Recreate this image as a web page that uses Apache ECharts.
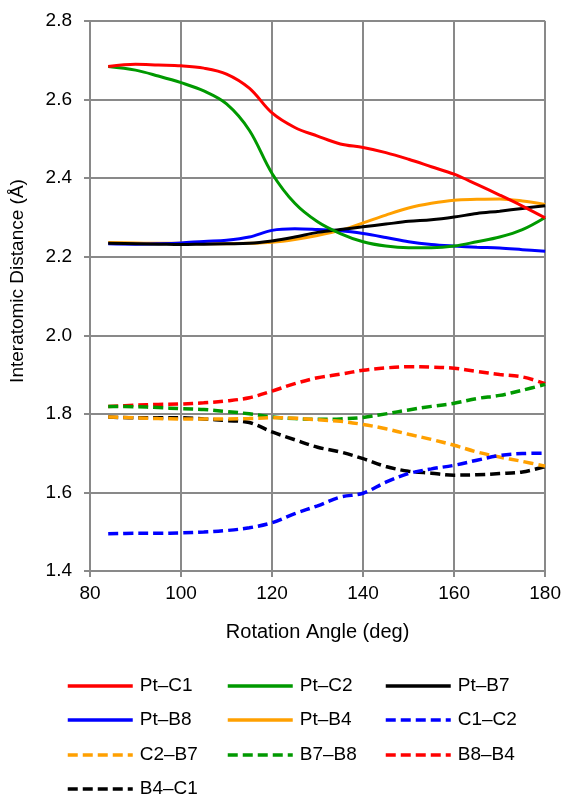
<!DOCTYPE html>
<html>
<head>
<meta charset="utf-8">
<script src="https://cdn.jsdelivr.net/npm/echarts@6/dist/echarts.min.js"></script>
<style>
html,body{margin:0;padding:0;background:#fff;}
#chart{width:564px;height:797px;}
</style>
</head>
<body>
<div id="chart"></div>
<script>
const angles = [84, 90, 95, 100, 105, 110, 115, 120, 125, 130, 135, 140, 145, 150, 155, 160, 165, 170, 175, 180];

const ptC1 = [2.684, 2.690, 2.688, 2.686, 2.680, 2.665, 2.629, 2.566, 2.529, 2.507, 2.487, 2.478, 2.465, 2.448, 2.429, 2.410, 2.384, 2.357, 2.329, 2.299];
const ptC2 = [2.684, 2.675, 2.660, 2.643, 2.622, 2.589, 2.522, 2.412, 2.336, 2.289, 2.259, 2.238, 2.227, 2.223, 2.223, 2.227, 2.238, 2.250, 2.269, 2.300];
const ptB7 = [2.234, 2.233, 2.232, 2.231, 2.232, 2.233, 2.234, 2.240, 2.250, 2.262, 2.269, 2.276, 2.283, 2.290, 2.294, 2.301, 2.310, 2.316, 2.323, 2.330];
const ptB8 = [2.233, 2.232, 2.233, 2.235, 2.239, 2.242, 2.250, 2.267, 2.271, 2.269, 2.266, 2.259, 2.249, 2.238, 2.231, 2.227, 2.224, 2.222, 2.218, 2.214];
const ptB4 = [2.236, 2.235, 2.234, 2.234, 2.233, 2.233, 2.234, 2.237, 2.244, 2.254, 2.267, 2.286, 2.306, 2.324, 2.336, 2.344, 2.346, 2.347, 2.342, 2.333];
const c1C2 = [1.495, 1.496, 1.496, 1.497, 1.499, 1.503, 1.510, 1.523, 1.546, 1.566, 1.588, 1.598, 1.626, 1.648, 1.660, 1.669, 1.682, 1.694, 1.699, 1.700];
const c2B7 = [1.792, 1.790, 1.788, 1.787, 1.787, 1.787, 1.788, 1.790, 1.789, 1.785, 1.781, 1.773, 1.762, 1.748, 1.735, 1.720, 1.703, 1.690, 1.679, 1.667];
const b7B8 = [1.819, 1.818, 1.816, 1.813, 1.811, 1.806, 1.800, 1.792, 1.788, 1.786, 1.787, 1.791, 1.800, 1.810, 1.819, 1.827, 1.839, 1.847, 1.860, 1.875];
const b8B4 = [1.819, 1.822, 1.824, 1.825, 1.828, 1.833, 1.841, 1.858, 1.877, 1.892, 1.901, 1.911, 1.917, 1.920, 1.919, 1.916, 1.908, 1.900, 1.894, 1.877];
const b4C1 = [1.792, 1.790, 1.790, 1.790, 1.787, 1.783, 1.778, 1.754, 1.734, 1.715, 1.703, 1.686, 1.666, 1.654, 1.649, 1.644, 1.645, 1.648, 1.652, 1.666];

const seriesNames = ['Pt\u2013C1', 'Pt\u2013C2', 'Pt\u2013B7', 'Pt\u2013B8', 'Pt\u2013B4', 'C1\u2013C2', 'C2\u2013B7', 'B7\u2013B8', 'B8\u2013B4', 'B4\u2013C1'];
const seriesData = [ptC1, ptC2, ptB7, ptB8, ptB4, c1C2, c2B7, b7B8, b8B4, b4C1];
const seriesColors = ['#FF0000', '#009900', '#000000', '#0000FF', '#FFA000', '#0000FF', '#FFA000', '#009900', '#FF0000', '#000000'];
const seriesDashed = [false, false, false, false, false, true, true, true, true, true];

const xTicks = [80, 100, 120, 140, 160, 180];
const yTicks = [1.4, 1.6, 1.8, 2.0, 2.2, 2.4, 2.6, 2.8];

const FONT = 'Liberation Sans, Arial, sans-serif';
const gridColor = '#898989';

const series = seriesNames.map((name, i) => ({
  name: name,
  type: 'line',
  smooth: 0.35,
  showSymbol: false,
  symbol: 'none',
  data: angles.map((a, j) => [a, seriesData[i][j]]),
  lineStyle: { color: seriesColors[i], width: seriesDashed[i] ? 3.5 : 3, type: seriesDashed[i] ? [10, 5] : 'solid' },
  itemStyle: { color: seriesColors[i] },
  z: 10 - i
}));

const colX = [66, 226, 384];
const rowY = [686, 720, 755, 789];
const legends = seriesNames.map((name, i) => ({
  data: [name],
  left: colX[i % 3],
  top: rowY[Math.floor(i / 3)] - 11,
  orient: 'horizontal',
  padding: 0,
  itemWidth: 65,
  itemHeight: 14,
  itemGap: 0,
  selectedMode: false,
  itemStyle: { opacity: 0 },
  lineStyle: { width: seriesDashed[i] ? 3.5 : 3.5, cap: 'butt' },
  textStyle: { fontFamily: FONT, fontSize: 19, color: '#000', padding: [0, 0, 0, 2], lineHeight: 22 }
}));

const chart = echarts.init(document.getElementById('chart'), null, { renderer: 'canvas' });
chart.setOption({
  animation: false,
  backgroundColor: '#fff',
  grid: { left: 90, right: 18, top: 21, bottom: 226, containLabel: false },
  xAxis: {
    type: 'value',
    min: 80, max: 180, interval: 20,
    name: 'Rotation Angle (deg)',
    nameLocation: 'middle',
    nameGap: 51,
    nameTextStyle: { fontFamily: FONT, fontSize: 20, color: '#000' },
    axisLine: { show: true, lineStyle: { color: gridColor, width: 2 } },
    axisTick: { show: true, length: 6, lineStyle: { color: gridColor, width: 2 } },
    axisLabel: { fontFamily: FONT, fontSize: 19, color: '#000', margin: 13,
      formatter: v => (xTicks.indexOf(v) >= 0 ? String(v) : '') },
    splitLine: { show: true, lineStyle: { color: gridColor, width: 2 } }
  },
  yAxis: {
    type: 'value',
    min: 1.4, max: 2.8, interval: 0.2,
    name: 'Interatomic Distance (\u00C5)',
    nameLocation: 'middle',
    nameGap: 63,
    nameRotate: 90,
    nameTextStyle: { fontFamily: FONT, fontSize: 19, color: '#000', padding: [0, 0, 0, 30] },
    axisLine: { show: true, lineStyle: { color: gridColor, width: 2 } },
    axisTick: { show: true, length: 6, lineStyle: { color: gridColor, width: 2 } },
    axisLabel: { fontFamily: FONT, fontSize: 19, color: '#000', margin: 18,
      formatter: v => {
        const t = yTicks.find(y => Math.abs(y - v) < 1e-6);
        return t !== undefined ? t.toFixed(1) : '';
      } },
    splitLine: { show: true, lineStyle: { color: gridColor, width: 2 } }
  },
  legend: legends,
  series: series
});
</script>
</body>
</html>
